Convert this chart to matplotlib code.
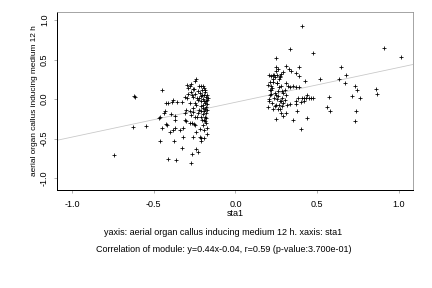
import numpy as np
import matplotlib
matplotlib.use("Agg")
import matplotlib.pyplot as plt

plt.rcParams['font.family'] = ['Liberation Sans', 'DejaVu Sans']

# module scores (sta1 vs aerial organ callus 12 h)
x_left = [-0.744, -0.622, -0.613, -0.628, -0.546, -0.451, -0.463, -0.47, -0.459, -0.424,
          -0.432, -0.44, -0.414, -0.361, -0.449, -0.428, -0.418, -0.40, -0.38, -0.37,
          -0.34, -0.32, -0.385, -0.391, -0.393, -0.373, -0.377, -0.371, -0.36, -0.33,
          -0.33, -0.32, -0.31, -0.306, -0.295, -0.31, -0.30, -0.41]
y_left = [-0.71, 0.034, 0.022, -0.35, -0.34, 0.114, -0.22, -0.24, -0.53, -0.055,
          -0.156, -0.17, -0.755, -0.776, -0.37, -0.31, -0.325, -0.41, -0.39, -0.37,
          -0.39, -0.37, -0.009, -0.038, -0.194, -0.21, -0.53, -0.26, -0.04, -0.04,
          -0.62, -0.485, -0.26, 0.025, 0.013, -0.17, -0.275, -0.05]

x_core = [-0.295, -0.277, -0.263, -0.249, -0.24, -0.292, -0.27, -0.255, -0.275, -0.265,
          -0.259, -0.224, -0.212, -0.2, -0.188, -0.194, -0.234, -0.224, -0.214, -0.194,
          -0.204, -0.177, -0.173, -0.169, -0.188, -0.198, -0.214, -0.19, -0.182, -0.20,
          -0.173, -0.214, -0.222, -0.228, -0.19, -0.2, -0.194, -0.173, -0.214, -0.19,
          -0.261, -0.218, -0.214, -0.239, -0.28, -0.261, -0.271, -0.304, -0.265, -0.28,
          -0.255, -0.245, -0.234, -0.245, -0.273, -0.267, -0.24, -0.23, -0.185, -0.18,
          -0.175, -0.178, -0.185, -0.18, -0.176, -0.205, -0.21, -0.22, -0.23, -0.245,
          -0.25, -0.24, -0.23, -0.2, -0.195, -0.183, -0.2, -0.185, -0.21, -0.185,
          -0.26, -0.28, -0.29, -0.205, -0.215, -0.18]
y_core = [0.18, 0.17, 0.13, 0.23, 0.25, 0.14, 0.19, 0.127, 0.085, 0.054,
          0.025, 0.16, 0.165, 0.165, 0.118, 0.14, 0.013, 0.013, 0.034, 0.047,
          0.054, 0.054, -0.009, 0.013, -0.05, -0.07, -0.09, -0.156, -0.177, -0.19,
          -0.135, -0.156, -0.135, -0.177, -0.26, -0.325, -0.39, -0.44, -0.49, -0.49,
          -0.485, -0.485, -0.535, -0.42, -0.156, -0.11, -0.2, -0.135, -0.30, -0.30,
          -0.32, -0.22, -0.23, -0.333, -0.806, -0.696, -0.63, -0.67, 0.09, 0.03,
          -0.06, -0.1, -0.22, -0.30, -0.36, -0.27, -0.02, 0.08, 0.1, 0.07,
          -0.05, -0.08, -0.01, 0.0, -0.03, -0.02, -0.11, -0.12, -0.22, -0.28,
          -0.16, -0.05, 0.06, 0.12, -0.38, -0.24]

x_right = [0.408, 0.332, 0.475, 0.907, 1.011, 0.247, 0.247, 0.261, 0.312, 0.328,
           0.34, 0.387, 0.373, 0.387, 0.292, 0.281, 0.271, 0.644, 0.675, 0.634,
           0.516, 0.424, 0.669, 0.73, 0.742, 0.858, 0.864, 0.714, 0.76, 0.573,
           0.557, 0.579, 0.736, 0.73, 0.436, 0.379, 0.40, 0.353, 0.247, 0.281,
           0.292, 0.312, 0.24, 0.267, 0.286, 0.316, 0.336, 0.369, 0.383, 0.404,
           0.418, 0.434, 0.451, 0.465, 0.475, 0.418, 0.438, 0.398, 0.373, 0.312,
           0.322, 0.336, 0.353, 0.373, 0.387, 0.30, 0.29, 0.312, 0.287, 0.30,
           0.277, 0.22, 0.234, 0.255, 0.275]
y_right = [0.92, 0.633, 0.582, 0.646, 0.527, 0.52, 0.405, 0.38, 0.418, 0.38,
           0.35, 0.40, 0.325, 0.287, 0.34, 0.316, 0.287, 0.405, 0.30, 0.253,
           0.253, 0.232, 0.199, 0.16, 0.118, 0.127, 0.063, 0.042, 0.013, 0.025,
           -0.10, -0.15, -0.15, -0.28, -0.24, -0.156, -0.38, -0.26, -0.25, -0.17,
           -0.21, -0.18, -0.085, -0.07, -0.09, -0.08, -0.063, -0.063, 0.013, 0.013,
           0.013, 0.02, 0.02, 0.02, 0.013, -0.03, 0.054, -0.04, -0.03, 0.2,
           0.17, 0.148, 0.16, 0.148, 0.148, 0.118, 0.076, 0.054, 0.02, -0.009,
           -0.03, 0.287, 0.31, 0.30, 0.28]

x_block = [0.205, 0.232, 0.213, 0.251, 0.198, 0.268, 0.226, 0.214, 0.283, 0.241,
           0.219, 0.262, 0.236, 0.207, 0.274, 0.221, 0.245, 0.229, 0.258, 0.245,
           0.203, 0.279, 0.255, 0.266, 0.217, 0.288, 0.239, 0.227, 0.249, 0.21,
           0.201, 0.262, 0.232, 0.272, 0.256, 0.218]
y_block = [0.30, 0.25, 0.22, 0.20, 0.18, 0.15, 0.14, 0.12, 0.10, 0.08,
           0.06, 0.04, 0.02, 0.0, -0.02, -0.05, -0.07, 0.22, 0.10, 0.05,
           -0.03, 0.17, 0.0, 0.25, 0.12, -0.05, 0.28, 0.31, 0.35, 0.05,
           -0.1, -0.12, -0.13, -0.12, 0.2, 0.17]

slope = 0.44
intercept = -0.04

x_all = x_left + x_core + x_right + x_block
y_all = y_left + y_core + y_right + y_block

fig = plt.figure(figsize=(6, 4), dpi=72)
ax = fig.add_axes([0.132, 0.34, 0.824, 0.618])

ax.axline((0, intercept), slope=slope, color='#c8c8c8', lw=0.8, zorder=1)
ax.scatter(x_all, y_all, marker='+', s=16, c='black', linewidths=0.8, zorder=2)

ax.set_xlim(-1.092, 1.086)
ax.set_ylim(-1.15, 1.10)
ax.set_xticks([-1.0, -0.5, 0.0, 0.5, 1.0])
ax.set_yticks([-1.0, -0.5, 0.0, 0.5, 1.0])
ax.set_xticklabels(['-1.0', '-0.5', '0.0', '0.5', '1.0'], fontsize=9)
ax.set_yticklabels(['-1.0', '-0.5', '0.0', '0.5', '1.0'], fontsize=9,
                   rotation=90, va='center')
ax.tick_params(axis='x', direction='out', length=3, width=0.6, color='#808080', pad=7)
ax.tick_params(axis='y', direction='out', length=3, width=0.6, color='#808080', pad=5)

for side in ['top', 'right']:
    ax.spines[side].set_color('#909090')
for side in ['left', 'bottom']:
    ax.spines[side].set_color('black')
    ax.spines[side].set_linewidth(1.0)

ax.set_xlabel('sta1', fontsize=9, labelpad=0)
ax.set_ylabel('aerial organ callus inducing medium 12 h', fontsize=8.3, labelpad=2)

fig.text(0.517, 0.191, 'yaxis: aerial organ callus inducing medium 12 h. xaxis: sta1',
         ha='center', va='center', fontsize=9)
fig.text(0.517, 0.132, 'Correlation of module: y=0.44x-0.04, r=0.59 (p-value:3.700e-01)',
         ha='center', va='center', fontsize=9)

fig.savefig('out.png', dpi=72)
